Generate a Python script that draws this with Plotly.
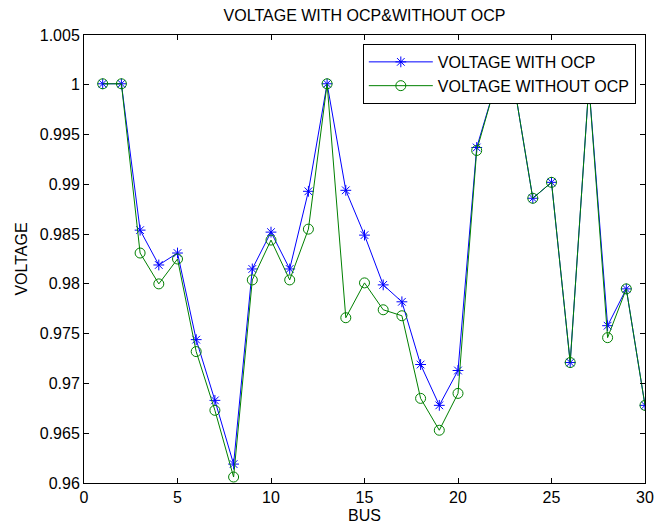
import plotly.graph_objects as go

bus = list(range(1, 31))
v_with_ocp = [1.0001, 1.0001, 0.9854, 0.9819, 0.9831, 0.9744, 0.9683, 0.9619, 0.9815, 0.9852,
              0.9815, 0.9893, 1.0001, 0.9894, 0.9849, 0.9799, 0.9782, 0.9719, 0.9678, 0.9713,
              0.9937, 1.0000, 1.0000, 0.9886, 0.9902, 0.9721, 1.0000, 0.9758, 0.9795, 0.9678]
v_without_ocp = [1.0001, 1.0001, 0.9831, 0.9800, 0.9825, 0.9732, 0.9673, 0.9606, 0.9804, 0.9844,
                 0.9804, 0.9855, 1.0001, 0.9766, 0.9801, 0.9774, 0.9768, 0.9685, 0.9653, 0.9690,
                 0.9934, 1.0000, 1.0000, 0.9886, 0.9902, 0.9721, 1.0000, 0.9746, 0.9795, 0.9678]

x_ticks = [0, 5, 10, 15, 20, 25, 30]
y_ticks = [0.96, 0.965, 0.97, 0.975, 0.98, 0.985, 0.99, 0.995, 1.0, 1.005]
y_tick_text = ["0.96", "0.965", "0.97", "0.975", "0.98", "0.985", "0.99", "0.995", "1", "1.005"]

FONT = "Liberation Sans, Arial, sans-serif"
FS = 16

fig = go.Figure()
fig.add_trace(go.Scatter(
    x=bus, y=v_with_ocp, mode="lines+markers", name="VOLTAGE WITH OCP",
    legendgroup="a",
    line=dict(color="#0000FF", width=1),
    marker=dict(symbol="asterisk-open", size=9, color="#0000FF",
                line=dict(color="#0000FF", width=1)),
))
fig.add_trace(go.Scatter(
    x=bus, y=v_without_ocp, mode="lines+markers", name="VOLTAGE WITHOUT OCP",
    legendgroup="b",
    line=dict(color="#008000", width=1),
    marker=dict(symbol="circle-open", size=10, color="#008000",
                line=dict(color="#008000", width=1)),
))

axis_common = dict(
    showgrid=False, zeroline=False, showline=True, linecolor="black", linewidth=1,
    mirror="ticks", ticks="inside", ticklen=5, tickcolor="black",
    tickfont=dict(family=FONT, size=FS, color="black"),
)

fig.update_layout(
    width=663, height=532,
    margin=dict(l=84, r=9, t=35, b=49),
    paper_bgcolor="white", plot_bgcolor="white",
    title=dict(text="VOLTAGE WITH OCP&WITHOUT OCP", x=0.5, xref="paper", xanchor="center",
               y=1 - 15.5 / 532, yanchor="middle",
               font=dict(family=FONT, size=FS, color="black")),
    xaxis=dict(range=[0, 30], tickvals=x_ticks,
               title=dict(text="BUS", standoff=4, font=dict(family=FONT, size=FS, color="black")),
               **axis_common),
    yaxis=dict(range=[0.96, 1.005], tickvals=y_ticks, ticktext=y_tick_text,
               title=dict(text="VOLTAGE", standoff=8, font=dict(family=FONT, size=FS, color="black")),
               **axis_common),
    showlegend=True,
    legend=dict(x=0.497, y=0.98, xanchor="left", yanchor="top",
                bgcolor="white", bordercolor="black", borderwidth=1,
                font=dict(family=FONT, size=FS, color="black"),
                itemwidth=64,
                traceorder="grouped", tracegroupgap=0),
)

fig.write_html("out.html")
